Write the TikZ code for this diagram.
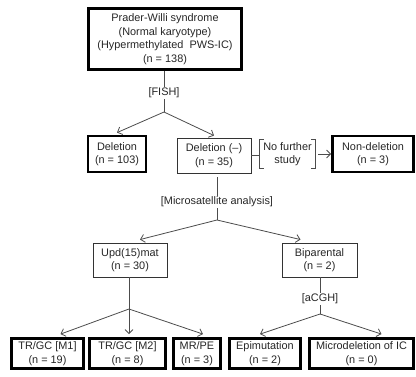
\documentclass[tikz,border=0pt]{standalone}
\usepackage{fontspec}
\setmainfont{Liberation Sans}
\usetikzlibrary{arrows.meta}
\begin{document}
\begin{tikzpicture}[x=1pt,y=-1pt,
  every node/.style={font=\fontsize{10.9}{13.5}\selectfont, text=black!85},
  thickbox/.style={draw=black, line width=2.8pt, rectangle, align=center, inner sep=0pt},
  thinbox/.style={draw=black!80, line width=0.9pt, rectangle, align=center, inner sep=0pt},
  conn/.style={draw=black!70, line width=0.8pt},
  arr/.style={conn, -{Straight Barb[length=4pt,width=8pt]}},
  lbl/.style={fill=white, inner sep=1pt}]
\useasboundingbox (0,0) rectangle (416,376);

\node[thickbox, minimum width=153, minimum height=61] (top) at (165,39)
  {Prader-Willi syndrome\\(Normal karyotype)\\(Hypermethylated\ \ PWS-IC)\\(n = 138)};

\node[thickbox, minimum width=58, minimum height=36] (del) at (117,154) {Deletion\\(n = 103)};
\node[thinbox, minimum width=74, minimum height=35] (delm) at (214,155.5) {Deletion (--)\\(n = 35)};
\node[minimum width=55, minimum height=28, inner sep=0pt, align=center] (nf) at (287.5,154) {No further\\study};
\node[thickbox, minimum width=81, minimum height=36] (nondel) at (373,154) {Non-deletion\\(n = 3)};

\node[thinbox, minimum width=74, minimum height=34] (upd) at (130,260) {Upd(15)mat\\(n = 30)};
\node[thinbox, minimum width=75, minimum height=34] (bip) at (319.5,260) {Biparental\\(n = 2)};

\node[thickbox, minimum width=72, minimum height=30] (m1) at (47.5,353.5) {TR/GC [M1]\\(n = 19)};
\node[thickbox, minimum width=76, minimum height=30] (m2) at (127.5,353.5) {TR/GC [M2]\\(n = 8)};
\node[thickbox, minimum width=47, minimum height=30] (mrpe) at (197,353.5) {MR/PE\\(n = 3)};
\node[thickbox, minimum width=71, minimum height=30] (epi) at (265,353.5) {Epimutation\\(n = 2)};
\node[thickbox, minimum width=104, minimum height=30] (micro) at (361.5,353.5) {Microdeletion of IC\\(n = 0)};

% split points
\coordinate (s1) at (164,112);
\coordinate (s2) at (217,220);
\coordinate (s3) at (129,309);
\coordinate (s4) at (320,314);

% FISH
\draw[conn] (top.south -| s1) -- (s1);
\node[lbl] (fish) at (164,93) {[FISH]};
\draw[arr] (s1) -- ([yshift=2pt]del.north);
\draw[arr] (s1) -- ([yshift=2pt]delm.north);

% no further study
\draw[conn] ([xshift=4pt]nf.north west) -- (nf.north west) -- (nf.south west) -- ([xshift=4pt]nf.south west);
\draw[conn] ([xshift=-4pt]nf.north east) -- (nf.north east) -- (nf.south east) -- ([xshift=-4pt]nf.south east);
\draw[conn] (delm.east) -- (delm.east -| nf.west);
\draw[arr, shorten <=3pt] (nf.east |- nondel.west) -- (nondel.west);

% microsatellite
\draw[conn] ([yshift=-4pt]delm.south -| s2) -- (s2);
\node[lbl] (micsat) at (217,202) {[Microsatellite analysis]};
\draw[arr] (s2) -- ([xshift=10pt,yshift=3pt]upd.north);
\draw[arr] (s2) -- ([xshift=-19pt,yshift=3pt]bip.north);

% upd split
\draw[conn] (upd.south -| s3) -- (s3);
\draw[arr] (s3) -- ([xshift=13pt,yshift=3pt]m1.north);
\draw[arr] (s3) -- ([xshift=1.5pt,yshift=3pt]m2.north);
\draw[arr] (s3) -- ([xshift=6pt,yshift=3pt]mrpe.north);

% aCGH
\draw[conn] (bip.south -| s4) -- (s4);
\node[lbl] (acgh) at (320,299) {[aCGH]};
\draw[arr] (s4) -- ([xshift=-5pt,yshift=3pt]epi.north);
\draw[arr] (s4) -- ([xshift=20pt,yshift=3pt]micro.north);
\end{tikzpicture}
\end{document}
